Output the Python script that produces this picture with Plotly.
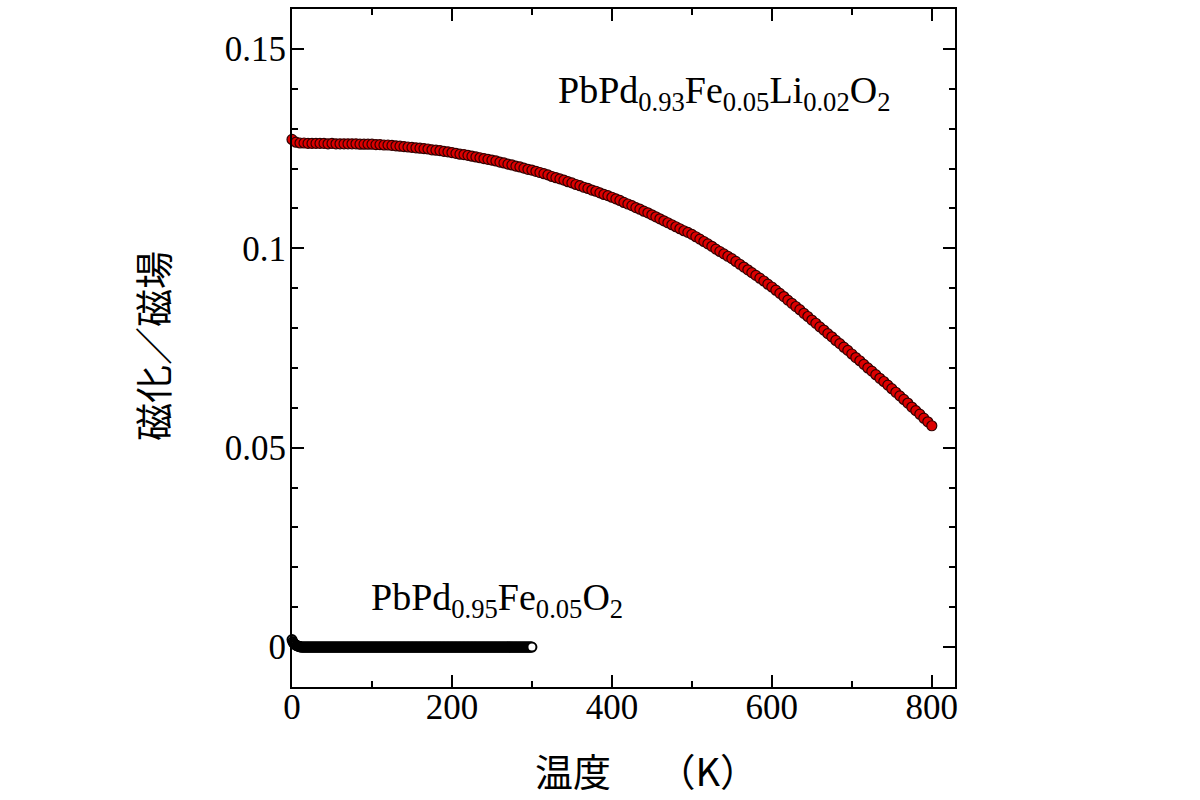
import plotly.graph_objects as go

# ---- data ----
# PbPd0.93Fe0.05Li0.02O2 : temperature (K), every 5 K
temp_li = list(range(0, 801, 5))
mag_li = [
    0.1273, 0.1266, 0.1264, 0.1264, 0.1263, 0.1263, 0.1263, 0.1263, 0.1263, 0.1262, 0.1263,
    0.1262, 0.1262, 0.1262, 0.1262, 0.1262, 0.1262, 0.1261, 0.1261, 0.1261, 0.1261,
    0.1260, 0.1260, 0.1259, 0.1259, 0.1258, 0.1257, 0.1256, 0.1255, 0.1254, 0.1253,
    0.1252, 0.1251, 0.1250, 0.1249, 0.1247, 0.1246, 0.1245, 0.1243, 0.1242, 0.1240,
    0.1238, 0.1236, 0.1235, 0.1233, 0.1231, 0.1229, 0.1227, 0.1225, 0.1223, 0.1221,
    0.1219, 0.1216, 0.1214, 0.1211, 0.1209, 0.1206, 0.1204, 0.1201, 0.1198, 0.1196,
    0.1193, 0.1190, 0.1187, 0.1184, 0.1180, 0.1177, 0.1174, 0.1171, 0.1167, 0.1164,
    0.1160, 0.1157, 0.1153, 0.1150, 0.1146, 0.1143, 0.1139, 0.1135, 0.1132, 0.1128,
    0.1124, 0.1120, 0.1115, 0.1111, 0.1107, 0.1102, 0.1098, 0.1093, 0.1089, 0.1084,
    0.1079, 0.1074, 0.1069, 0.1064, 0.1059, 0.1054, 0.1049, 0.1044, 0.1040, 0.1035,
    0.1029, 0.1023, 0.1017, 0.1011, 0.1005, 0.0998, 0.0992, 0.0986, 0.0980, 0.0974,
    0.0967, 0.0960, 0.0953, 0.0946, 0.0939, 0.0932, 0.0925, 0.0918, 0.0910, 0.0903,
    0.0895, 0.0887, 0.0879, 0.0870, 0.0862, 0.0854, 0.0846, 0.0837, 0.0829, 0.0820,
    0.0812, 0.0803, 0.0795, 0.0786, 0.0778, 0.0769, 0.0761, 0.0752, 0.0744, 0.0735,
    0.0726, 0.0718, 0.0709, 0.0700, 0.0692, 0.0683, 0.0674, 0.0666, 0.0657, 0.0648,
    0.0639, 0.0630, 0.0621, 0.0612, 0.0602, 0.0593, 0.0584, 0.0574, 0.0565, 0.0555,
]

# PbPd0.95Fe0.05O2 : temperature (K), every 1 K; read as ~0 after the first few kelvin
temp_fe = list(range(0, 301, 1))
mag_fe = [0.0019, 0.0014, 0.0010, 0.0008, 0.0006, 0.0005, 0.0004, 0.0003,
          0.0002, 0.0002, 0.0001] + [0.0] * (len(temp_fe) - 11)

x_ticks = [0, 200, 400, 600, 800]
y_ticks = [0, 0.05, 0.1, 0.15]
y_tick_text = ["0", "0.05", "0.1", "0.15"]

label_li = "PbPd<sub>0.93</sub>Fe<sub>0.05</sub>Li<sub>0.02</sub>O<sub>2</sub>"
label_fe = "PbPd<sub>0.95</sub>Fe<sub>0.05</sub>O<sub>2</sub>"
x_title = "温度　 （K）"
y_title = "磁化／磁場"

SERIF = "Liberation Serif, Times New Roman, serif"
CJK = "Noto Sans CJK JP, sans-serif"

fig = go.Figure()
fig.add_trace(go.Scatter(
    x=temp_fe, y=mag_fe, mode="markers", cliponaxis=False,
    marker=dict(symbol="circle", size=9, color="white",
                line=dict(color="black", width=2)),
    showlegend=False,
))
fig.add_trace(go.Scatter(
    x=temp_li, y=mag_li, mode="markers", cliponaxis=False,
    marker=dict(symbol="circle", size=10, color="#dc0000",
                line=dict(color="#300000", width=1.2)),
    showlegend=False,
))

axis_common = dict(
    showline=True, linewidth=2, linecolor="black", mirror="ticks",
    ticks="inside", ticklen=12, tickwidth=2, tickcolor="black",
    showgrid=False, zeroline=False,
    tickfont=dict(family=SERIF, size=35, color="black"),
)

fig.update_xaxes(range=[0, 829], tickvals=x_ticks, ticklabelstandoff=-12,
                 minor=dict(dtick=100, tick0=0, ticks="inside", ticklen=6,
                            tickwidth=2, tickcolor="black"),
                 **axis_common)
fig.update_yaxes(range=[-0.01, 0.16], tickvals=y_ticks, ticktext=y_tick_text,
                 ticklabelstandoff=-3,
                 minor=dict(dtick=0.01, tick0=0, ticks="inside", ticklen=6,
                            tickwidth=2, tickcolor="black"),
                 **axis_common)

fig.add_annotation(x=330, y=0.1390, xref="x", yref="y", text=label_li,
                   showarrow=False, xanchor="left", yanchor="middle",
                   font=dict(family=SERIF, size=38, color="black"))
fig.add_annotation(x=96, y=0.0118, xref="x", yref="y", text=label_fe,
                   showarrow=False, xanchor="left", yanchor="middle",
                   font=dict(family=SERIF, size=38, color="black"))

fig.add_annotation(x=0.534, y=-0.122, xref="paper", yref="paper", text=x_title,
                   showarrow=False, xanchor="center", yanchor="middle",
                   font=dict(family=CJK, size=38, color="black"))
fig.add_annotation(x=-0.211, y=0.503, xref="paper", yref="paper", text=y_title,
                   showarrow=False, xanchor="center", yanchor="middle", textangle=-90,
                   font=dict(family=CJK, size=38, color="black"))

fig.update_layout(
    width=1200, height=800,
    margin=dict(l=292, r=245, t=7, b=113),
    paper_bgcolor="white", plot_bgcolor="white",
)

fig.write_html("out.html")
